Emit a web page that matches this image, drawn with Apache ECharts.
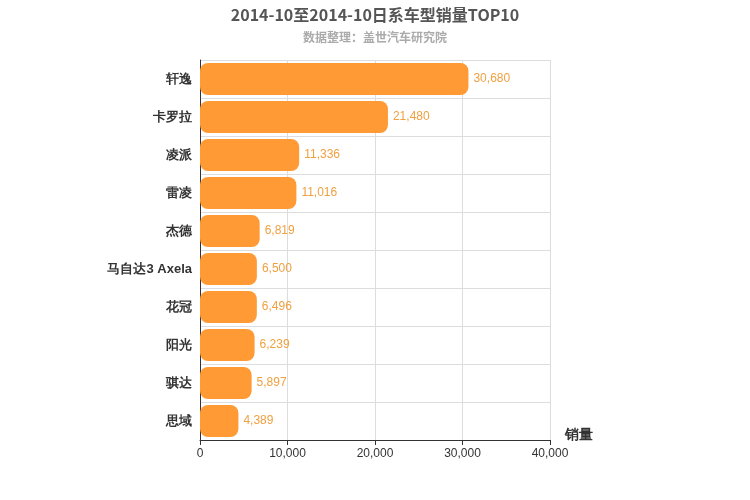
<!DOCTYPE html>
<html><head><meta charset="utf-8">
<script src="https://cdn.jsdelivr.net/npm/echarts@6/dist/echarts.min.js"></script>
<style>html,body{margin:0;padding:0;background:#fff}#c{width:750px;height:500px}</style>
</head><body><div id="c"></div>
<script>
const categories = ['轩逸','卡罗拉','凌派','雷凌','杰德','马自达3 Axela','花冠','阳光','骐达','思域'];
const values = [30680,21480,11336,11016,6819,6500,6496,6239,5897,4389];
const xTicks = [0,10000,20000,30000,40000];
const chart = echarts.init(document.getElementById('c'));
chart.setOption({
  animation:false,
  title:{text:'2014-10至2014-10日系车型销量TOP10',subtext:'数据整理：盖世汽车研究院',left:'center',top:2,
    textStyle:{fontSize:16,fontWeight:'bold',color:'#555',fontFamily:'Noto Sans CJK SC'},
    subtextStyle:{fontSize:12,color:'#aaa',fontWeight:'bold',fontFamily:'Noto Sans CJK SC'},itemGap:8},
  grid:{left:200,right:200,top:60,bottom:60},
  xAxis:{type:'value',min:xTicks[0],max:xTicks[xTicks.length-1],interval:10000,name:'销量',
    nameLocation:'end',nameGap:15,nameTextStyle:{fontSize:14,fontWeight:'bold',color:'#333',verticalAlign:'top',padding:[-12,0,0,0]},
    axisLine:{show:true,lineStyle:{color:'#333'}},axisTick:{show:true},
    axisLabel:{color:'#333',fontSize:12},splitLine:{lineStyle:{color:'#ddd'}}},
  yAxis:{type:'category',inverse:true,data:categories,
    axisLine:{lineStyle:{color:'#333'}},axisTick:{show:false},
    axisLabel:{color:'#333',fontSize:13,fontWeight:'bold'},splitLine:{show:true,lineStyle:{color:'#ddd'}}},
  series:[{type:'bar',data:values,barWidth:32,
    itemStyle:{color:'#ff9a35',borderRadius:8},
    label:{show:true,position:'right',color:'#f0a040',fontSize:12,
      formatter:p=>p.value.toLocaleString('en-US')}}]
});
</script></body></html>
